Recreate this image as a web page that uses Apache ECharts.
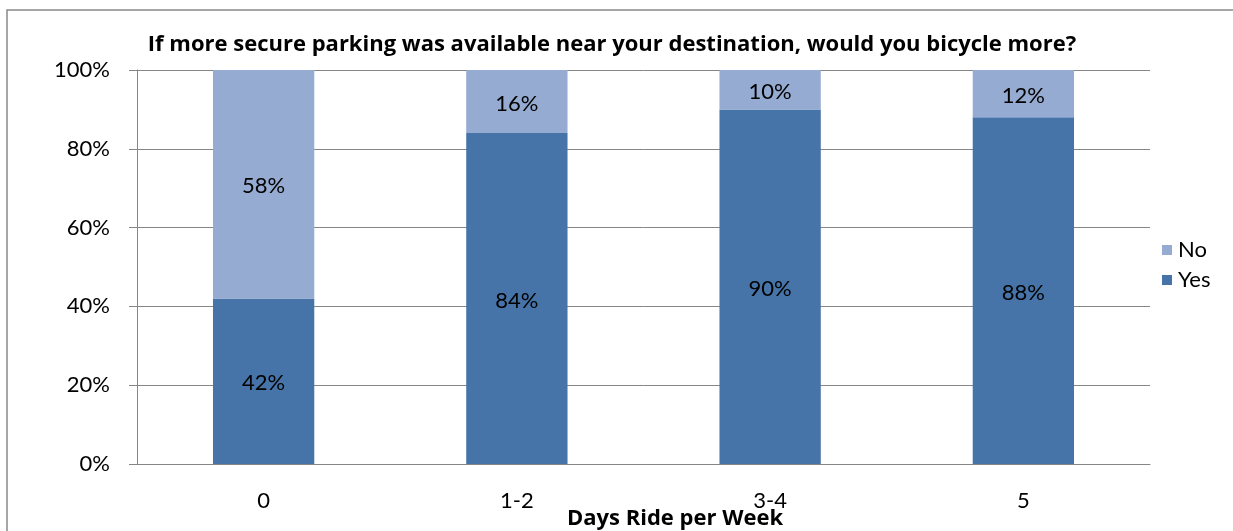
<!DOCTYPE html>
<html>
<head>
<meta charset="utf-8">
<script src="https://cdn.jsdelivr.net/npm/echarts@6/dist/echarts.min.js"></script>
<style>
  html, body { margin: 0; padding: 0; background: #ffffff; }
  #chart { width: 1233px; height: 531px; }
</style>
</head>
<body>
<div id="chart"></div>
<script>
// Survey answers by riding frequency (percent of respondents)
const categories = ['0', '1-2', '3-4', '5'];
const yesValues = [42, 84, 90, 88];
const noValues = [58, 16, 10, 12];
const yTicks = [0, 20, 40, 60, 80, 100];

const titleText = 'If more secure parking was available near your destination, would you bicycle more?';
const xAxisTitle = 'Days Ride per Week';

const FONT = 'Lato';
const BOLD_FONT = 'Open Sans';
const LABEL_SIZE = 22;
const GRAY = '#868686';

const chart = echarts.init(document.getElementById('chart'), null, { renderer: 'canvas' });

const pctLabel = {
  show: true,
  position: 'inside',
  offset: [0, 2],
  formatter: p => p.value + '%',
  color: '#000000',
  fontFamily: FONT,
  fontSize: LABEL_SIZE
};

const boldText = { fontFamily: BOLD_FONT, fontWeight: 'bold', fontSize: 22, color: '#000000' };

chart.setOption({
  backgroundColor: '#ffffff',
  animation: false,
  title: [
    // chart heading
    { text: titleText, left: 607, top: 29, textAlign: 'center', textStyle: boldText },
    // horizontal axis caption, set slightly right of the plot centre
    { text: xAxisTitle, left: 670, top: 503, textAlign: 'center', textStyle: boldText }
  ],
  graphic: [{
    type: 'rect',
    shape: { x: 7, y: 10, width: 1400, height: 700 },
    style: { fill: 'none', stroke: '#898989', lineWidth: 1.5 },
    silent: true,
    z: -1
  }],
  legend: {
    orient: 'vertical',
    left: 1157,
    top: 234,
    itemWidth: 10,
    itemHeight: 10,
    itemGap: 8,
    data: ['No', 'Yes'],
    textStyle: { fontFamily: FONT, fontSize: LABEL_SIZE, color: '#000000', padding: [0, 0, 0, 1] },
    icon: 'rect'
  },
  grid: { left: 137, right: 83, top: 70, bottom: 67, containLabel: false, outerBoundsMode: 'none' },
  xAxis: {
    type: 'category',
    data: categories,
    axisLine: { show: true, lineStyle: { color: GRAY, width: 1 } },
    axisTick: { show: false },
    axisLabel: { fontFamily: FONT, fontSize: LABEL_SIZE, color: '#000000', margin: 26 }
  },
  yAxis: {
    type: 'value',
    min: yTicks[0],
    max: yTicks[yTicks.length - 1],
    interval: yTicks[1] - yTicks[0],
    axisLine: { show: true, lineStyle: { color: GRAY, width: 1 } },
    axisTick: { show: true, length: 8, lineStyle: { color: GRAY } },
    splitLine: { show: true, lineStyle: { color: GRAY, width: 1 } },
    axisLabel: { fontFamily: FONT, fontSize: LABEL_SIZE, color: '#000000', margin: 27, formatter: v => v + '%' }
  },
  series: [
    {
      name: 'Yes',
      type: 'bar',
      stack: 'answer',
      barWidth: '40%',
      data: yesValues,
      itemStyle: { color: '#4674A8' },
      label: pctLabel
    },
    {
      name: 'No',
      type: 'bar',
      stack: 'answer',
      barWidth: '40%',
      data: noValues,
      itemStyle: { color: '#95ABD1' },
      label: pctLabel
    }
  ]
});
</script>
</body>
</html>
